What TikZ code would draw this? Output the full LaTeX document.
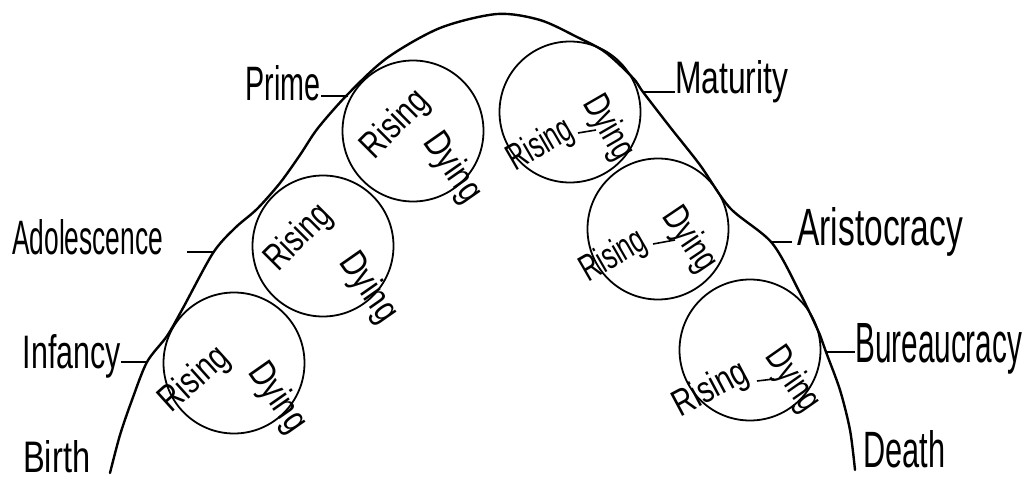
\documentclass[tikz,border=0pt]{standalone}
\usepackage{fontspec}
\usepackage{graphicx}
\setmainfont{Liberation Sans}
\newcommand\fitword[3]{\resizebox{#1pt}{#2pt}{#3}}
\begin{document}
\begin{tikzpicture}[x=1pt,y=-1pt,
  arch/.style={line width=2.4pt, line cap=round, line join=round},
  ring/.style={draw, circle, line width=1.8pt, minimum size=141pt, inner sep=0pt},
  tick/.style={line width=2pt},
  gtail/.style={line width=1.6pt},
  lab/.style={inner sep=0pt, font=\fontsize{30}{34}\selectfont},
  word/.style={inner sep=0pt, font=\fontsize{30}{34}\selectfont}]
\useasboundingbox (0,0) rectangle (1026,481);
% main arch
\draw[arch] plot[smooth, tension=0.5] coordinates {
 (110,473) (120,435) (132,400) (147,362) (167,336) (183,308) (213,253)
 (235,228) (257,209) (280,183) (300,155) (318,128) (348,94) (387,58) (440,28)
 (497,14) (540,20) (577,37) (605,52) (633,78) (643,92) (670,127)
 (700,165) (730,208) (772,243) (800,293) (820,335) (826,352) (840,390)
 (850,430) (855,470)};
% arch points for ticks
\coordinate (tInf) at (147,362);
\coordinate (tAdo) at (213,252);
\coordinate (tAdoE) at (187,252);
\coordinate (tPri) at (348,96);
\coordinate (tMat) at (643,92);
\coordinate (tAri) at (772,242);
\coordinate (tAriE) at (792,242);
\coordinate (tBur) at (826,352);
% circles
\node[ring] (c1) at (234,363) {};
\node[ring] (c2) at (323,246) {};
\node[ring] (c3) at (413,131) {};
\node[ring] (c4) at (570,112) {};
\node[ring] (c5) at (658,229) {};
\node[ring] (c6) at (750,350) {};
% words in circles
\node[word, rotate=42] (r1) at (195,380) {\fitword{80}{27}{Rising}};
\node[word, rotate=-55] (d1) at (277,398) {\fitword{76}{27}{Dying}};
\node[word, rotate=45] (r2) at (299,238) {\fitword{78}{27}{Rising}};
\node[word, rotate=-55] (d2) at (368,288) {\fitword{76}{27}{Dying}};
\node[word, rotate=45] (r3) at (396,125) {\fitword{80}{27}{Rising}};
\node[word, rotate=-55] (d3) at (452,168) {\fitword{76}{27}{Dying}};
\node[word, rotate=30] (r4) at (541,146) {\fitword{70}{27}{Rising}};
\node[word, rotate=-60] (d4) at (608,128) {\fitword{68}{27}{Dying}};
\node[word, rotate=30] (r5) at (614,257) {\fitword{70}{27}{Rising}};
\node[word, rotate=-56] (d5) at (689,240) {\fitword{70}{27}{Dying}};
\node[word, rotate=28] (r6) at (711,390) {\fitword{80}{27}{Rising}};
\node[word, rotate=-55] (d6) at (792,380) {\fitword{70}{27}{Dying}};
\coordinate (g4a) at (578,133); \coordinate (g4b) at (596,130);
\coordinate (g5a) at (653,244); \coordinate (g5b) at (675,240);
\coordinate (g6a) at (757,381); \coordinate (g6b) at (774,379);
\draw[gtail] (g4a) -- (g4b);
\draw[gtail] (g5a) -- (g5b);
\draw[gtail] (g6a) -- (g6b);
% labels
\node[lab, anchor=base west] (birth) at (23,472) {\fitword{67}{32}{Birth}};
\node[lab, anchor=base east] (inf) at (121,368) {\fitword{98}{34}{Infancy}};
\node[lab, anchor=base west] (ado) at (12,255) {\fitword{151}{35}{Adolescence}};
\node[lab, anchor=base east] (pri) at (321,101) {\fitword{75}{35}{Prime}};
\node[lab, anchor=base west] (mat) at (675,94) {\fitword{113}{33}{Maturity}};
\node[lab, anchor=base west] (ari) at (797,246) {\fitword{166}{38}{Aristocracy}};
\node[lab, anchor=base west] (bur) at (855,362) {\fitword{167}{39}{Bureaucracy}};
\node[lab, anchor=base west] (dea) at (863,467) {\fitword{82}{37}{Death}};
% ticks
\draw[tick] (tInf) -- (tInf -| inf.east);
\draw[tick] (tAdo) -- (tAdoE);
\draw[tick] (tPri) -- (tPri -| pri.east);
\draw[tick] (tMat) -- (tMat -| mat.west);
\draw[tick] (tAri) -- (tAriE);
\draw[tick] (tBur) -- (tBur -| bur.west);
\end{tikzpicture}
\end{document}
